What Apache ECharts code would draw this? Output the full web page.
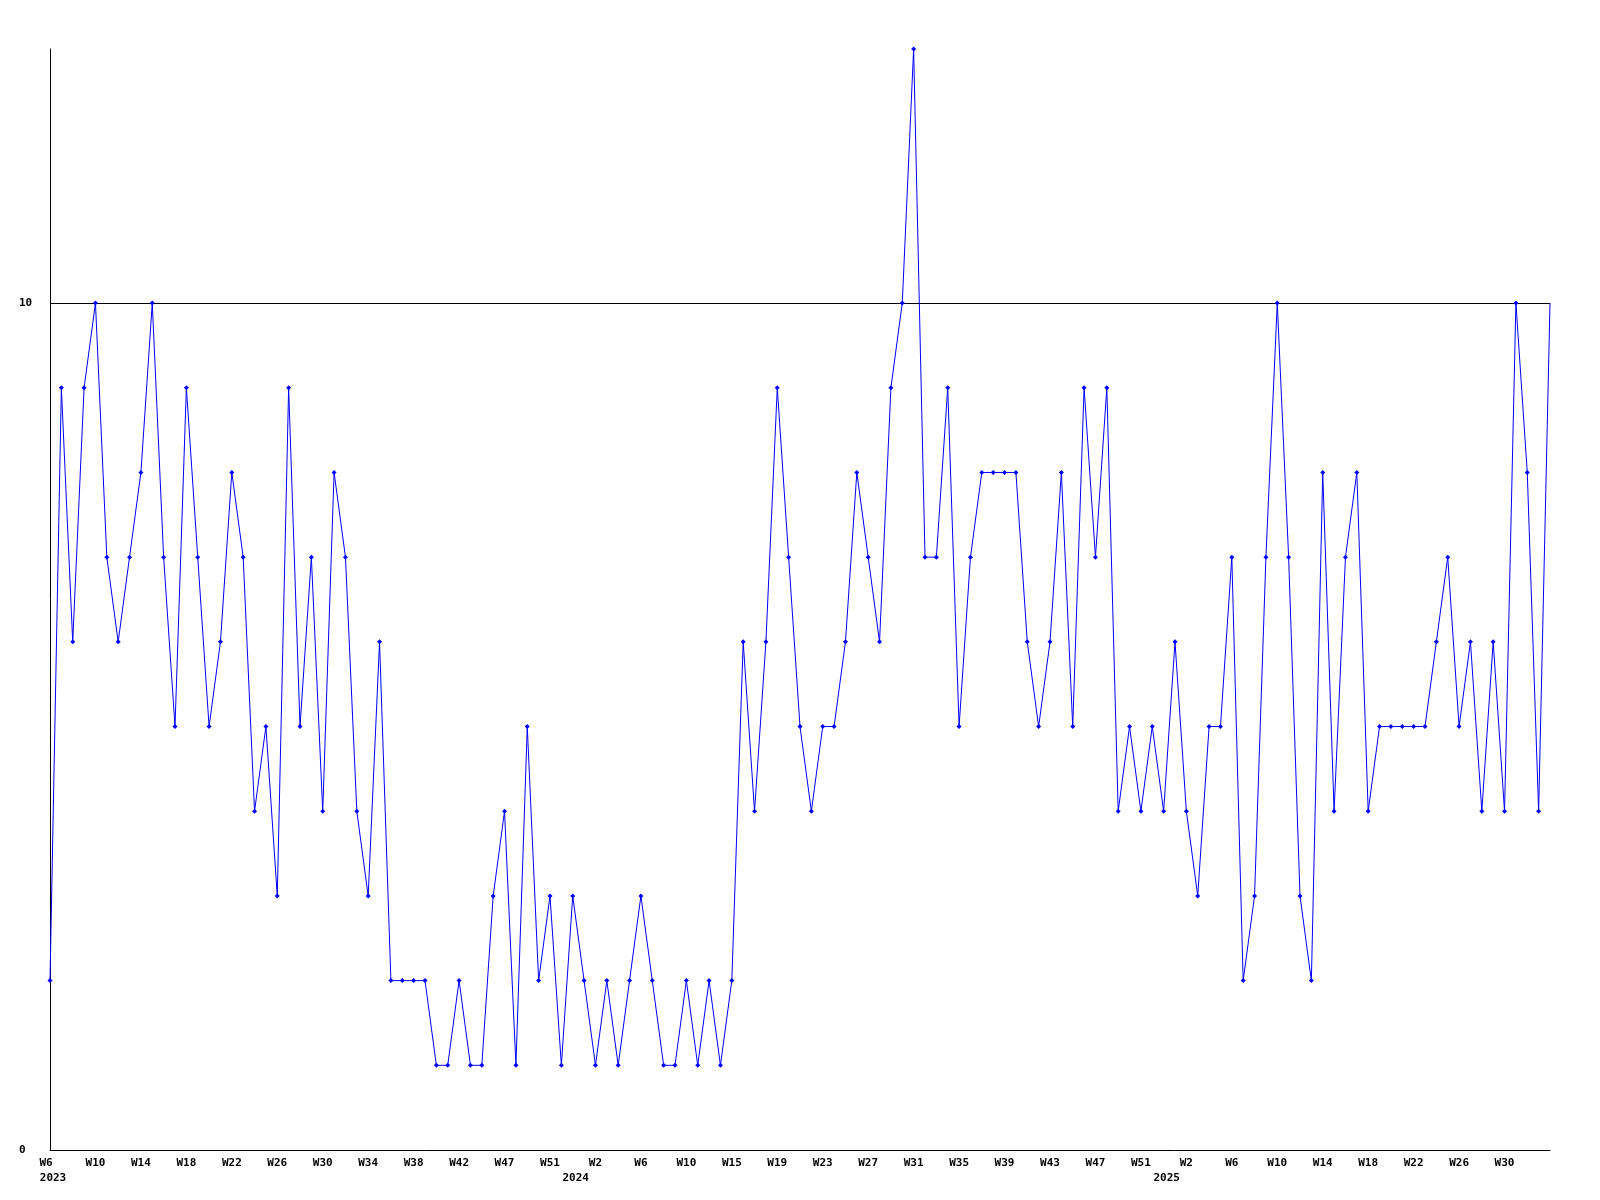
<!DOCTYPE html>
<html>
<head>
<meta charset="utf-8">
<script src="https://cdn.jsdelivr.net/npm/echarts@6/dist/echarts.min.js"></script>
<style>
html,body{margin:0;padding:0;background:#fff;}
#c{width:1600px;height:1200px;}
</style>
</head>
<body>
<div id="c"></div>
<script>
// Week categories (year-week), one per data point
const weeks = [
  '2023-W6','2023-W7','2023-W8','2023-W9','2023-W10','2023-W11','2023-W12','2023-W13','2023-W14','2023-W15',
  '2023-W16','2023-W17','2023-W18','2023-W19','2023-W20','2023-W21','2023-W22','2023-W23','2023-W24','2023-W25',
  '2023-W26','2023-W27','2023-W28','2023-W29','2023-W30','2023-W31','2023-W32','2023-W33','2023-W34','2023-W35',
  '2023-W36','2023-W37','2023-W38','2023-W39','2023-W40','2023-W41','2023-W42','2023-W44','2023-W45','2023-W46',
  '2023-W47','2023-W48','2023-W49','2023-W50','2023-W51','2023-W52',
  '2024-W0','2024-W1','2024-W2','2024-W3','2024-W4','2024-W5','2024-W6','2024-W7','2024-W8','2024-W9',
  '2024-W10','2024-W12','2024-W13','2024-W14','2024-W15','2024-W16','2024-W17','2024-W18','2024-W19','2024-W20',
  '2024-W21','2024-W22','2024-W23','2024-W24','2024-W25','2024-W26','2024-W27','2024-W28','2024-W29','2024-W30',
  '2024-W31','2024-W32','2024-W33','2024-W34','2024-W35','2024-W36','2024-W37','2024-W38','2024-W39','2024-W40',
  '2024-W41','2024-W42','2024-W43','2024-W44','2024-W45','2024-W46','2024-W47','2024-W48','2024-W49','2024-W50',
  '2024-W51','2024-W52',
  '2025-W0','2025-W1','2025-W2','2025-W3','2025-W4','2025-W5','2025-W6','2025-W7','2025-W8','2025-W9',
  '2025-W10','2025-W11','2025-W12','2025-W13','2025-W14','2025-W15','2025-W16','2025-W17','2025-W18','2025-W19',
  '2025-W20','2025-W21','2025-W22','2025-W23','2025-W24','2025-W25','2025-W26','2025-W27','2025-W28','2025-W29',
  '2025-W30','2025-W31','2025-W32','2025-W33','2025-W34'
];

// Series values
const counts = [
  2,9,6,9,10,7,6,7,8,10,
  7,5,9,7,5,6,8,7,4,5,
  3,9,5,7,4,8,7,4,3,6,
  2,2,2,2,1,1,2,1,1,3,
  4,1,5,2,3,1,3,2,1,2,
  1,2,3,2,1,1,2,1,2,1,
  2,6,4,6,9,7,5,4,5,5,
  6,8,7,6,9,10,13,7,7,9,
  5,7,8,8,8,8,6,5,6,8,
  5,9,7,9,4,5,4,5,4,6,
  4,3,5,5,7,2,3,7,10,7,
  3,2,8,4,7,8,4,5,5,5,
  5,5,6,7,5,6,4,6,4,10,
  8,4,10
];

// Y tick labels
const yTicks = [0, 10];

const FONT = '"DejaVu Sans Mono", "Liberation Mono", monospace';

const chart = echarts.init(document.getElementById('c'), null, {renderer: 'canvas'});

const yearOf = w => w.split('-')[0];
const weekOf = w => w.split('-')[1];

const seriesData = counts.map((v, i) => i === counts.length - 1 ? {value: v, symbol: 'none'} : v);

chart.setOption({
  animation: false,
  backgroundColor: '#ffffff',
  grid: {left: 50, right: 50, top: 49, bottom: 50, containLabel: false},
  xAxis: [
    {
      type: 'category',
      data: weeks,
      boundaryGap: false,
      axisLine: {show: true, lineStyle: {color: '#000', width: 1}},
      axisTick: {show: false},
      splitLine: {show: false},
      axisLabel: {
        interval: 3,
        margin: 8,
        showMaxLabel: false,
        color: '#000',
        fontFamily: FONT,
        fontWeight: 'bold',
        fontSize: 11,
        formatter: (v, i) => i === 0 ? '{first|' + weekOf(v) + '}' : weekOf(v),
        rich: {
          first: {
            color: '#000',
            fontFamily: FONT,
            fontWeight: 'bold',
            fontSize: 11,
            padding: [0, 8, 0, 0]
          }
        }
      }
    },
    {
      type: 'category',
      data: weeks,
      position: 'bottom',
      boundaryGap: false,
      axisLine: {show: false},
      axisTick: {show: false},
      splitLine: {show: false},
      axisLabel: {
        margin: 23,
        color: '#000',
        fontFamily: FONT,
        fontWeight: 'bold',
        fontSize: 11,
        interval: (idx, v) => idx === 0 || yearOf(weeks[idx - 1]) !== yearOf(v),
        formatter: v => yearOf(v),
        padding: [0, 0, 0, 6]
      }
    }
  ],
  yAxis: {
    type: 'value',
    min: 0,
    max: 13,
    interval: 10,
    axisLine: {show: true, lineStyle: {color: '#000', width: 1}},
    axisTick: {show: false},
    splitLine: {show: true, showMinLine: false, showMaxLine: false, lineStyle: {color: '#000', width: 1}},
    axisLabel: {
      customValues: yTicks,
      align: 'left',
      margin: 31,
      color: '#000',
      fontFamily: FONT,
      fontWeight: 'bold',
      fontSize: 11,
      formatter: v => (yTicks.indexOf(v) >= 0 ? String(v) : '')
    }
  },
  series: [{
    type: 'line',
    data: seriesData,
    xAxisIndex: 0,
    showSymbol: true,
    showAllSymbol: true,
    symbol: 'diamond',
    symbolSize: 5,
    lineStyle: {color: '#0000ff', width: 1},
    itemStyle: {color: '#0000ff'},
    emphasis: {disabled: true},
    clip: false
  }]
});
</script>
</body>
</html>
